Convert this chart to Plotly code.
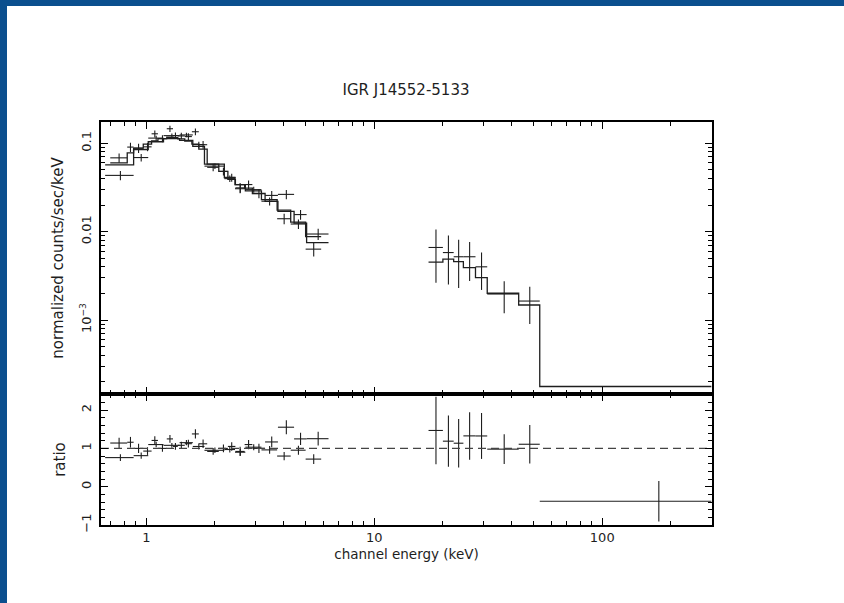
import math
import plotly.graph_objects as go

TITLE = "IGR J14552-5133"

# ---- XMM dataset 1 (bin edges in keV, flux, 1-sigma error, model) ----
x1_edges = [0.695, 0.825, 0.88, 0.97, 1.055, 1.125, 1.23, 1.31, 1.375, 1.475, 1.585,
            1.70, 1.85, 2.08, 2.28, 2.46, 2.70, 2.92, 3.32, 3.78, 4.45, 5.05, 6.3]
x1_flux = [0.0684, 0.0905, 0.088, 0.0911, 0.128, 0.113, 0.146, 0.122, 0.121, 0.119, 0.135,
           0.0963, 0.0534, 0.048, 0.041, 0.0313, 0.0341, 0.027, 0.0257, 0.0264, 0.0156, 0.0094]
x1_err = [0.0084, 0.0109, 0.0106, 0.0098, 0.0117, 0.0102, 0.0117, 0.0104, 0.0101, 0.0106, 0.0118,
          0.0095, 0.0052, 0.0048, 0.0043, 0.0041, 0.0037, 0.0032, 0.0031, 0.0031, 0.0020, 0.00135]
x1_model = [0.060, 0.078, 0.088, 0.098, 0.106, 0.113, 0.117, 0.116, 0.112, 0.106, 0.098,
            0.086, 0.058, 0.048, 0.039, 0.034, 0.031, 0.027, 0.022, 0.0170, 0.0125, 0.0075]

# ---- XMM dataset 2 ----
x2_edges = [0.66, 0.88, 1.02, 1.19, 1.40, 1.60, 1.80, 2.20, 2.45, 2.72, 3.20, 3.75, 4.30, 5.0, 5.85]
x2_flux = [0.0433, 0.0689, 0.1144, 0.1220, 0.1242, 0.0966, 0.0551, 0.0398, 0.0306, 0.0299,
           0.0221, 0.0140, 0.0122, 0.00634]
x2_err = [0.0051, 0.0068, 0.0073, 0.0068, 0.0076, 0.0074, 0.0041, 0.0033, 0.0031, 0.0023,
          0.0023, 0.0019, 0.0015, 0.0011]
x2_model = [0.057, 0.085, 0.104, 0.113, 0.108, 0.092, 0.058, 0.041, 0.034, 0.029,
            0.023, 0.0175, 0.0128, 0.0088]

# ---- INTEGRAL/ISGRI dataset ----
i_edges = [17.3, 20.0, 22.3, 24.6, 27.8, 31.3, 43.0, 53.2, 301.0]
i_flux = [0.00662, 0.0058, 0.0052, 0.0052, 0.0040, 0.00197, 0.00164, -0.0000673]
i_err = [0.00397, 0.00327, 0.00289, 0.00243, 0.00181, 0.00078, 0.00074, 0.0000938]
i_model = [0.00451, 0.00488, 0.00458, 0.00392, 0.00302, 0.00201, 0.00148, 0.000177]

x_range = [0.633, 303.0]
y_range_top = [1.456e-4, 0.174]
y_range_ratio = [-1.0, 2.42]

top_tickvals = [0.001, 0.01, 0.1]
top_ticktext = ["10<sup>\u22123</sup>", "0.01", "0.1"]
ratio_tickvals = [-1, 0, 1, 2]
x_tickvals = [1, 10, 100]

INK = "#1e1e1e"
FONT = "DejaVu Sans, Liberation Sans, sans-serif"

fig = go.Figure()


def add_dataset(edges, flux, err, model):
    lo = edges[:-1]
    hi = edges[1:]
    cen = [(a + b) / 2 for a, b in zip(lo, hi)]
    hw = [(b - a) / 2 for a, b in zip(lo, hi)]
    keep = [i for i, f in enumerate(flux) if f > 0]
    fig.add_trace(go.Scatter(
        x=[cen[i] for i in keep], y=[flux[i] for i in keep],
        mode="markers", marker=dict(size=1, color="rgba(0,0,0,0)"),
        error_x=dict(type="data", array=[hw[i] for i in keep], width=0, thickness=1.1, color=INK),
        error_y=dict(type="data", array=[err[i] for i in keep], width=0, thickness=1.1, color=INK),
        xaxis="x2", yaxis="y", showlegend=False, hoverinfo="skip"))
    fig.add_trace(go.Scatter(
        x=list(edges), y=list(model) + [model[-1]], mode="lines", line_shape="hv",
        line=dict(color=INK, width=1.3), xaxis="x2", yaxis="y",
        showlegend=False, hoverinfo="skip"))
    ratio = [f / m for f, m in zip(flux, model)]
    rerr = [e / m for e, m in zip(err, model)]
    fig.add_trace(go.Scatter(
        x=cen, y=ratio, mode="markers", marker=dict(size=1, color="rgba(0,0,0,0)"),
        error_x=dict(type="data", array=hw, width=0, thickness=1.1, color=INK),
        error_y=dict(type="data", array=rerr, width=0, thickness=1.1, color=INK),
        xaxis="x", yaxis="y2", showlegend=False, hoverinfo="skip"))


add_dataset(x1_edges, x1_flux, x1_err, x1_model)
add_dataset(x2_edges, x2_flux, x2_err, x2_model)
add_dataset(i_edges, i_flux, i_err, i_model)

fig.add_trace(go.Scatter(x=x_range, y=[1, 1], mode="lines",
                         line=dict(color="#444444", width=1.1, dash="8px,5px"),
                         xaxis="x", yaxis="y2", showlegend=False, hoverinfo="skip"))


def minor_log(lo, hi):
    vals = []
    for d in range(math.floor(math.log10(lo)), math.ceil(math.log10(hi)) + 1):
        for m in range(2, 10):
            v = m * 10 ** d
            if lo <= v <= hi:
                vals.append(v)
    return vals


split = 131 / 403
axis_common = dict(showline=True, linecolor="black", linewidth=1.5, mirror="allticks",
                   ticks="inside", ticklen=7, tickwidth=1.2, tickcolor="black",
                   showgrid=False, zeroline=False,
                   tickfont=dict(family=FONT, size=13, color=INK))
minor_style = dict(ticks="inside", ticklen=4, tickwidth=1, tickcolor="black")

fig.update_layout(
    width=844, height=603,
    margin=dict(l=101, r=132, t=122, b=78),
    paper_bgcolor="#0b4f8e", plot_bgcolor="white",
    font=dict(family=FONT, size=13, color=INK),
    title=dict(text=TITLE, x=406 / 844, xanchor="center", y=1 - 90 / 603, yanchor="middle",
               font=dict(family=FONT, size=15, color=INK)),
    xaxis=dict(type="log", range=[math.log10(x_range[0]), math.log10(x_range[1])],
               domain=[0, 1], anchor="y2",
               tickvals=x_tickvals, ticktext=[str(v) for v in x_tickvals],
               minor=dict(tickmode="array", tickvals=minor_log(*x_range), **minor_style),
               title=dict(text="channel energy (keV)", standoff=5,
                          font=dict(family=FONT, size=13.5, color=INK)),
               **axis_common),
    xaxis2=dict(type="log", range=[math.log10(x_range[0]), math.log10(x_range[1])],
                domain=[0, 1], anchor="y", matches="x", showticklabels=False,
                tickvals=x_tickvals,
                minor=dict(tickmode="array", tickvals=minor_log(*x_range), **minor_style),
                **axis_common),
    yaxis=dict(type="log", range=[math.log10(y_range_top[0]), math.log10(y_range_top[1])],
               domain=[split, 1], anchor="x2",
               tickvals=top_tickvals, ticktext=top_ticktext, tickangle=-90,
               ticklabelstandoff=3,
               minor=dict(tickmode="array", tickvals=minor_log(*y_range_top), **minor_style),
               title=dict(text="normalized counts/sec/keV", standoff=10,
                          font=dict(family=FONT, size=15, color=INK)),
               **axis_common),
    yaxis2=dict(range=y_range_ratio, domain=[0, split], anchor="x",
                tickvals=ratio_tickvals, tickangle=-90, ticklabelstandoff=3,
                minor=dict(tickmode="linear", dtick=0.2, tick0=0, **minor_style),
                title=dict(text="ratio", standoff=10,
                           font=dict(family=FONT, size=15, color=INK)),
                **axis_common),
    shapes=[
        dict(type="rect", xref="paper", yref="paper",
             x0=(7 - 101) / 611, x1=(850 - 101) / 611,
             y0=(525 - 610) / 403, y1=(525 - 6) / 403,
             fillcolor="white", line=dict(width=0), layer="below"),
        dict(type="line", xref="paper", yref="paper", x0=0, x1=1, y0=split, y1=split,
             line=dict(color="black", width=3)),
    ],
)

fig.write_html("out.html")
